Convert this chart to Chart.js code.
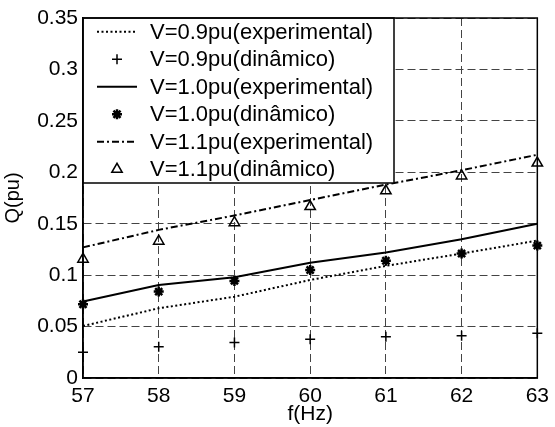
<!DOCTYPE html>
<html><head><meta charset="utf-8">
<script src="https://cdn.jsdelivr.net/npm/chart.js@4/dist/chart.umd.min.js"></script>
<style>html,body{margin:0;padding:0;background:#fff}#wrap{width:555px;height:427px;position:relative}</style>
</head><body><div id="wrap"><canvas id="c" width="555" height="427"></canvas></div>
<script>
const freqs = [57, 58, 59, 60, 61, 62, 63];
const v09Exp = [0.0506, 0.0678, 0.079, 0.0953, 0.109, 0.121, 0.1336];
const v09Din = [0.025, 0.0305, 0.0344, 0.0376, 0.0402, 0.041, 0.0435];
const v10Exp = [0.0743, 0.0905, 0.098, 0.112, 0.122, 0.135, 0.150];
const v10Din = [0.0717, 0.084, 0.0944, 0.105, 0.114, 0.121, 0.1287];
const v11Exp = [0.127, 0.144, 0.158, 0.173, 0.188, 0.202, 0.217];
const v11Din = [0.1155, 0.133, 0.151, 0.1667, 0.182, 0.1965, 0.209];
const yTicks = [0, 0.05, 0.1, 0.15, 0.2, 0.25, 0.3, 0.35];
const seriesLabels = ['V=0.9pu(experimental)', 'V=0.9pu(dinâmico)', 'V=1.0pu(experimental)', 'V=1.0pu(dinâmico)', 'V=1.1pu(experimental)', 'V=1.1pu(dinâmico)'];
const xTitle = 'f(Hz)';
const yTitle = 'Q(pu)';

const FONT = '"Liberation Sans", Arial, sans-serif';
const pts = arr => arr.map((v, i) => ({x: freqs[i], y: v}));

function lineDs(label, data, dash, width) {
  return {label, data: pts(data), showLine: true, borderColor: '#000', borderWidth: width,
    borderDash: dash, pointRadius: 0, fill: false, tension: 0, kind: 'line', clip: false};
}
function markDs(label, data, style, radius, bw) {
  return {label, data: pts(data), showLine: false, borderColor: '#000', backgroundColor: 'rgba(0,0,0,0)',
    pointStyle: style, pointRadius: radius, pointBorderWidth: bw, pointBorderColor: '#000',
    pointBackgroundColor: 'rgba(0,0,0,0)', kind: 'mark', clip: false};
}

const datasets = [
  lineDs(seriesLabels[0], v09Exp, [2, 2.5], 2),
  markDs(seriesLabels[1], v09Din, 'cross', 5, 1.5),
  lineDs(seriesLabels[2], v10Exp, [], 2),
  markDs(seriesLabels[3], v10Din, 'star', 5, 2.5),
  lineDs(seriesLabels[4], v11Exp, [7, 3, 2, 3], 2),
  markDs(seriesLabels[5], v11Din, 'triangle', 6, 1.5)
];

function drawMarker(ctx, style, x, y, r) {
  ctx.beginPath();
  if (style === 'cross') {
    ctx.moveTo(x - r, y); ctx.lineTo(x + r, y); ctx.moveTo(x, y - r); ctx.lineTo(x, y + r);
  } else if (style === 'star') {
    ctx.moveTo(x - r, y); ctx.lineTo(x + r, y); ctx.moveTo(x, y - r); ctx.lineTo(x, y + r);
    const d = r * Math.SQRT1_2;
    ctx.moveTo(x - d, y - d); ctx.lineTo(x + d, y + d); ctx.moveTo(x - d, y + d); ctx.lineTo(x + d, y - d);
  } else if (style === 'triangle') {
    const h = r * 1.5, s = r * Math.sqrt(3);
    ctx.moveTo(x - s / 2, y + h / 3); ctx.lineTo(x + s / 2, y + h / 3); ctx.lineTo(x, y - 2 * h / 3); ctx.closePath();
  }
  ctx.stroke();
}

const legendPlugin = {
  id: 'boxLegend',
  afterDatasetsDraw(chart) {
    const ctx = chart.ctx, a = chart.chartArea;
    const x0 = a.left, y0 = a.top, w = 311, h = 165;
    ctx.save();
    ctx.fillStyle = '#fff';
    ctx.fillRect(x0, y0, w, h);
    ctx.strokeStyle = '#000'; ctx.lineWidth = 1.5; ctx.setLineDash([]);
    ctx.strokeRect(x0, y0, w, h);
    const rowH = h / chart.data.datasets.length;
    ctx.font = '22px ' + FONT;
    ctx.textBaseline = 'middle';
    ctx.fillStyle = '#000';
    chart.data.datasets.forEach((ds, i) => {
      const cy = y0 + rowH * (i + 0.5);
      ctx.save();
      ctx.strokeStyle = '#000';
      if (ds.kind === 'line') {
        ctx.lineWidth = ds.borderWidth;
        ctx.setLineDash(ds.borderDash);
        ctx.beginPath(); ctx.moveTo(x0 + 14, cy); ctx.lineTo(x0 + 54, cy); ctx.stroke();
      } else {
        ctx.lineWidth = ds.pointBorderWidth;
        ctx.setLineDash([]);
        drawMarker(ctx, ds.pointStyle, x0 + 34, cy, ds.pointRadius);
      }
      ctx.restore();
      ctx.fillText(ds.label, x0 + 67, cy + 1);
    });
    ctx.restore();
  },
  afterDraw(chart) {
    const ctx = chart.ctx, a = chart.chartArea;
    ctx.save();
    ctx.strokeStyle = '#000'; ctx.lineWidth = 1.5;
    ctx.strokeRect(a.left, a.top, a.right - a.left, a.bottom - a.top);
    ctx.restore();
  }
};

new Chart(document.getElementById('c'), {
  type: 'scatter',
  data: {datasets},
  options: {
    responsive: false, animation: false, devicePixelRatio: 1,
    layout: {padding: {top: 18, right: 14, left: 0, bottom: 0}},
    plugins: {legend: {display: false}, tooltip: {enabled: false}},
    scales: {
      x: {
        type: 'linear', min: 57, max: 63,
        afterBuildTicks: s => { s.ticks = freqs.map(v => ({value: v})); },
        afterFit: s => { s.height = 49; },
        ticks: {color: '#000', font: {family: FONT, size: 21}, padding: 6, maxRotation: 0,
          callback: v => String(v)},
        grid: {color: '#444', lineWidth: 1, drawTicks: false},
        border: {display: true, color: '#000', width: 1.5, dash: [8, 4]},
        title: {display: true, text: xTitle, color: '#000', font: {family: FONT, size: 21}, padding: {top: 0, bottom: 0}}
      },
      y: {
        type: 'linear', min: 0, max: 0.35,
        afterBuildTicks: s => { s.ticks = yTicks.map(v => ({value: v})); },
        afterFit: s => { s.width = 83; },
        ticks: {color: '#000', font: {family: FONT, size: 21}, padding: 5,
          callback: v => String(+v.toFixed(2))},
        grid: {color: '#444', lineWidth: 1, drawTicks: false},
        border: {display: true, color: '#000', width: 1.5, dash: [8, 4]},
        title: {display: true, text: yTitle, color: '#000', font: {family: FONT, size: 20}, padding: {top: 1, bottom: 0}}
      }
    }
  },
  plugins: [legendPlugin]
});
</script>
</body></html>
